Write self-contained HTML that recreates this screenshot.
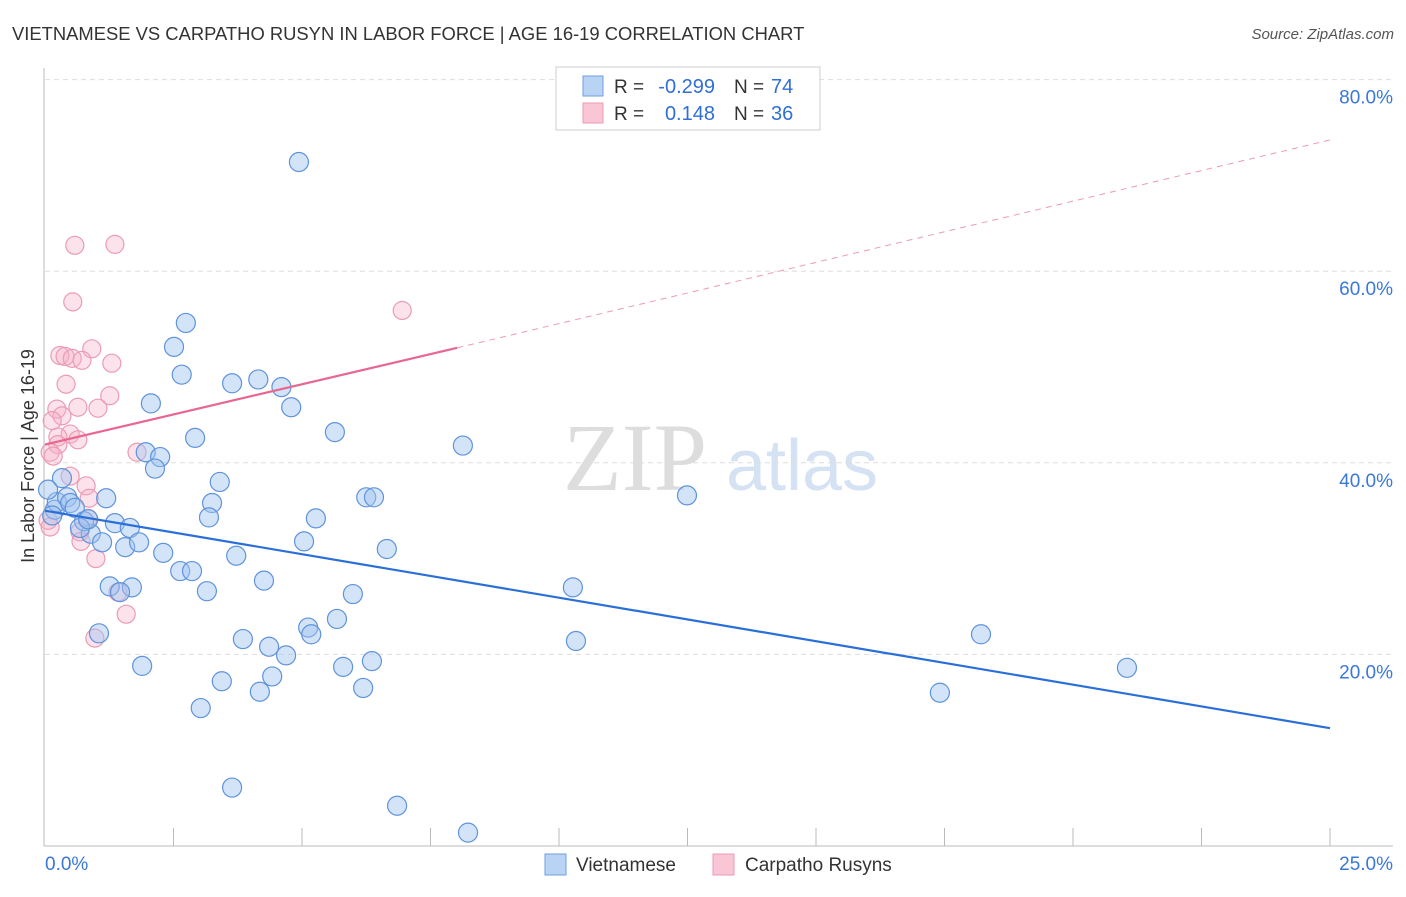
<!DOCTYPE html>
<html><head><meta charset="utf-8"><style>
body{margin:0;background:#fff;font-family:"Liberation Sans",sans-serif}
svg text{font-family:"Liberation Sans",sans-serif}
</style></head><body>
<svg width="1406" height="892" xmlns="http://www.w3.org/2000/svg" id="chart">
<text x="12" y="40" font-size="18.4" fill="#333">VIETNAMESE VS CARPATHO RUSYN IN LABOR FORCE | AGE 16-19 CORRELATION CHART</text>
<text x="1394" y="39" font-size="15" fill="#555" text-anchor="end" font-style="italic">Source: ZipAtlas.com</text>
<g>
<text x="635" y="490" font-size="96" fill="#ddd" text-anchor="middle" style="font-family:'Liberation Serif',serif">ZIP</text>
<text x="802" y="490" font-size="72" fill="#d4e2f3" text-anchor="middle">atlas</text>
</g>
<g id="grid"></g>
<g id="axes"></g>
<g id="marks"></g>
<text x="34" y="456" font-size="18" fill="#333" text-anchor="middle" transform="rotate(-90 34 456)">In Labor Force | Age 16-19</text>
<g>
<rect x="556" y="67" width="264" height="63" fill="#fff" stroke="#ccc"/>
<rect x="583" y="76" width="20" height="20" fill="#b9d3f5" stroke="#6e9fe0"/>
<rect x="583" y="103" width="20" height="20" fill="#f9c6d5" stroke="#ec9ab4"/>
<text x="614" y="93" font-size="19" fill="#333">R =</text>
<text x="715" y="93" font-size="20" fill="#2f6fd6" text-anchor="end">-0.299</text>
<text x="734" y="93" font-size="19" fill="#333">N =</text>
<text x="771" y="93" font-size="20" fill="#2f6fd6">74</text>
<text x="614" y="120" font-size="19" fill="#333">R =</text>
<text x="715" y="120" font-size="20" fill="#2f6fd6" text-anchor="end">0.148</text>
<text x="734" y="120" font-size="19" fill="#333">N =</text>
<text x="771" y="120" font-size="20" fill="#2f6fd6">36</text>
</g>
<g>
<rect x="545" y="854" width="21" height="21" fill="#b9d3f5" stroke="#6e9fe0"/>
<text x="576" y="871" font-size="19" fill="#333">Vietnamese</text>
<rect x="713" y="854" width="21" height="21" fill="#f9c6d5" stroke="#ec9ab4"/>
<text x="745" y="871" font-size="19" fill="#333">Carpatho Rusyns</text>
</g>
</svg>
<script>
const yTicks=[20,40,60,80];
const yTickLabels=["20.0%","40.0%","60.0%","80.0%"];
const xTickLabels=["0.0%","25.0%"];
const blueX=[4.94,8.13,12.49,10.27,10.33,18.21,21.05,17.41,2.74,2.51,2.66,3.64,4.15,4.60,2.06,4.79,5.64,2.92,1.96,2.24,2.14,3.40,1.19,3.25,6.25,6.40,3.19,5.27,1.36,1.65,0.89,1.11,1.56,1.83,5.04,6.65,3.72,2.30,2.63,2.86,4.26,1.26,1.69,1.46,3.15,5.99,5.68,5.12,5.18,1.05,3.85,4.36,4.69,6.36,5.80,1.89,4.42,3.44,6.19,4.18,3.03,3.64,6.85,8.23,0.19,0.23,0.33,0.43,0.49,0.58,0.14,0.76,0.68,0.84,0.06];
const blueY=[71.4,41.8,36.6,27.0,21.4,22.1,18.6,16.0,54.6,52.1,49.2,48.3,48.7,47.9,46.2,45.8,43.2,42.6,41.1,40.6,39.4,38.0,36.3,35.8,36.4,36.4,34.3,34.2,33.7,33.2,32.6,31.7,31.2,31.7,31.8,31.0,30.3,30.6,28.7,28.7,27.7,27.1,27.0,26.5,26.6,26.3,23.7,22.8,22.1,22.2,21.6,20.8,19.9,19.3,18.7,18.8,17.7,17.2,16.5,16.1,14.4,6.1,4.2,1.4,35.1,35.9,38.4,36.4,35.8,35.3,34.5,33.9,33.2,34.1,37.2];
const pinkX=[0.58,1.36,0.54,6.95,0.91,0.29,0.39,0.53,0.72,1.30,0.41,1.26,0.23,1.03,0.64,0.33,0.14,0.49,0.25,0.64,0.25,0.10,0.16,1.79,0.49,0.80,0.86,0.84,0.06,0.68,0.70,0.99,1.42,1.58,0.97,0.10];
const pinkY=[62.7,62.8,56.8,55.9,51.9,51.2,51.1,50.9,50.7,50.4,48.2,47.0,45.6,45.7,45.8,44.9,44.4,43.0,42.7,42.4,41.9,41.1,40.7,41.1,38.6,37.6,36.3,34.2,34.0,32.8,31.8,30.0,26.5,24.2,21.7,33.3];
const blueTrend=[35.0,12.3];
const pinkTrend=[41.9,52.0,8.02,73.7];
const NS="http://www.w3.org/2000/svg";
const sx=v=>45+v/25*1285, sy=v=>846-v/20*191.6;
function mk(p,t,a){const e=document.createElementNS(NS,t);for(const k in a)e.setAttribute(k,a[k]);p.appendChild(e);return e;}
const grid=document.getElementById('grid'),axes=document.getElementById('axes'),marks=document.getElementById('marks');
yTicks.forEach((t,i)=>{
 const l=mk(grid,'line',{x1:45,x2:1393,y1:sy(t),y2:sy(t),stroke:'#ddd','stroke-dasharray':'5,4'});
 
 
 const tx=mk(axes,'text',{x:1393,y:sy(t)+24,'font-size':19,fill:'#3a78d8','text-anchor':'end'});
 tx.textContent=yTickLabels[i];
 
 
});
let a=mk(axes,'line',{x1:44,x2:44,y1:68,y2:846,stroke:'#bbb'});


a=mk(axes,'line',{x1:44,x2:1393,y1:846,y2:846,stroke:'#bbb'});


for(let i=1;i<=10;i++){const t=mk(axes,'line',{x1:sx(i*2.5),x2:sx(i*2.5),y1:828,y2:846,stroke:'#bbb'});
 
 }
[[0,'start',45],[25,'end',1393]].forEach((d,i)=>{const t=mk(axes,'text',{x:d[2],y:870,'font-size':19,fill:'#3a78d8','text-anchor':d[1]});t.textContent=xTickLabels[i];
 
 });
pinkX.forEach((x,i)=>{const c=mk(marks,'circle',{cx:sx(x),cy:sy(pinkY[i]),r:9,fill:'rgba(245,175,198,0.35)',stroke:'#eb9bb5','stroke-width':1.2});
 
 });
blueX.forEach((x,i)=>{const c=mk(marks,'circle',{cx:sx(x),cy:sy(blueY[i]),r:9.5,fill:'rgba(160,195,240,0.45)',stroke:'#5f93dc','stroke-width':1.2});
 
 });
let t=mk(marks,'line',{x1:sx(0),y1:sy(blueTrend[0]),x2:sx(25),y2:sy(blueTrend[1]),stroke:'#2a6fd8','stroke-width':2.2});


t=mk(marks,'line',{x1:sx(0),y1:sy(pinkTrend[0]),x2:sx(pinkTrend[2]),y2:sy(pinkTrend[1]),stroke:'#e8668f','stroke-width':2.2});


t=mk(marks,'line',{x1:sx(pinkTrend[2]),y1:sy(pinkTrend[1]),x2:sx(25),y2:sy(pinkTrend[3]),stroke:'#eb9bb5','stroke-width':1,'stroke-dasharray':'6,5'});


</script>
</body></html>
